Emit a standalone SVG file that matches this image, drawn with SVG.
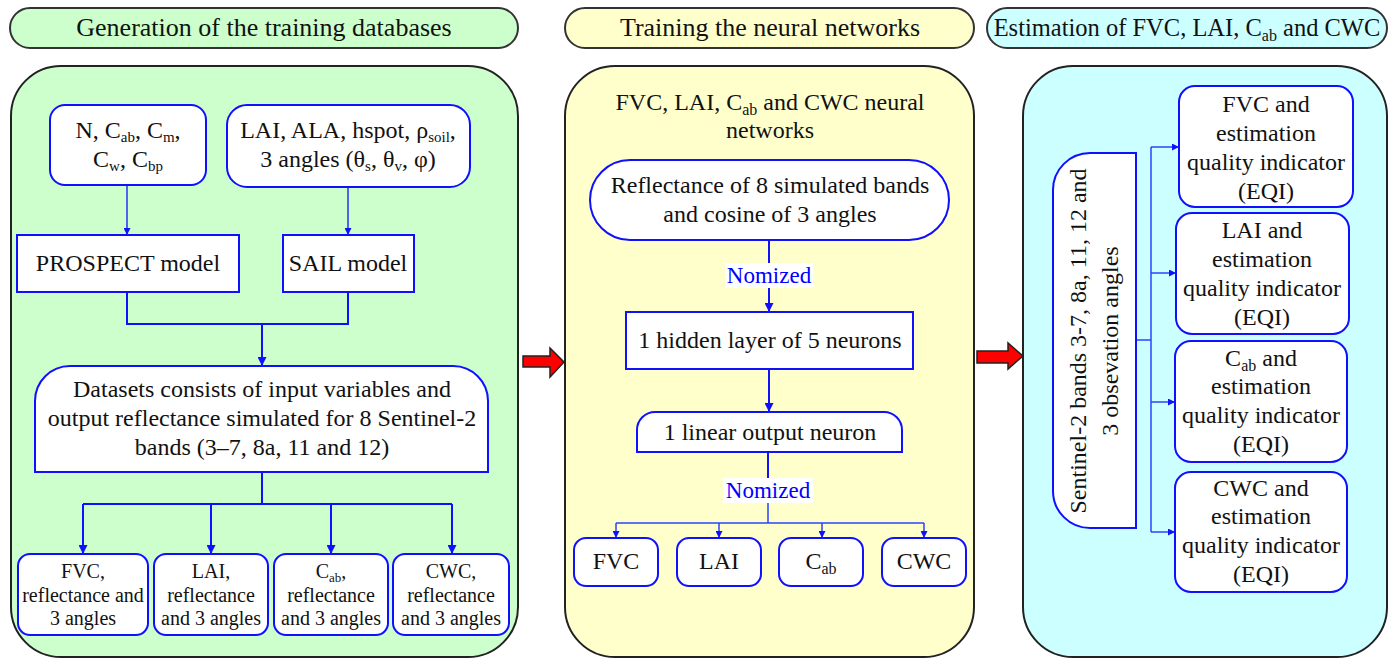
<svg xmlns="http://www.w3.org/2000/svg" width="1395" height="658" viewBox="0 0 1395 658">
<defs>
<style>
text{font-family:"Liberation Serif","Times New Roman",serif;fill:#111;}
.hdr{stroke:#333;stroke-width:2;}
.panel{stroke:#222;stroke-width:2;}
.box{fill:#fff;stroke:#1010ff;stroke-width:2;}
.t24{font-size:24px;text-anchor:middle;}
.t20{font-size:20px;text-anchor:middle;}
.t26{font-size:26px;text-anchor:middle;}
.c2{fill:none;stroke:#1010ff;stroke-width:2;}
.c1{fill:none;stroke:#1010ff;stroke-width:1.3;}
.c15{fill:none;stroke:#2a44ff;stroke-width:1.5;}
.lbl{fill:#0000ff;font-size:23px;text-anchor:middle;}
.red{fill:#ff0000;stroke:#222;stroke-width:1.5;}
</style>
<marker id="ah" viewBox="0 0 10 10" refX="10" refY="5" markerUnits="userSpaceOnUse" markerWidth="9" markerHeight="9" orient="auto"><path d="M0,0 L10,5 L0,10 z" fill="#1010ff"/></marker>
<marker id="ahs" viewBox="0 0 10 10" refX="10" refY="5" markerUnits="userSpaceOnUse" markerWidth="7" markerHeight="7" orient="auto"><path d="M0,0 L10,5 L0,10 z" fill="#1010ff"/></marker>
</defs>

<g id="headers">
<g id="h1"><rect class="hdr" x="10" y="8" width="508" height="40" rx="20" fill="#ccffcc"/><text class="t26" x="264" y="36">Generation of the training databases</text></g>
<g id="h2"><rect class="hdr" x="565" y="8" width="409" height="40" rx="20" fill="#ffffcc"/><text class="t26" x="770" y="36">Training the neural networks</text></g>
<g id="h3"><rect class="hdr" x="987" y="8" width="400" height="40" rx="20" fill="#ccffff"/><text x="1187" y="36" style="font-size:24.5px;text-anchor:middle">Estimation of FVC, LAI, C<tspan font-size="16" dy="5">ab</tspan><tspan dy="-5"> and CWC</tspan></text></g>
</g>

<g id="panels">
<rect id="p1" class="panel" x="11" y="66" width="507" height="591" rx="50" fill="#ccffcc"/>
<rect id="p2" class="panel" x="565" y="66" width="409" height="591" rx="50" fill="#ffffcc"/>
<rect id="p3" class="panel" x="1023" y="66" width="364" height="591" rx="50" fill="#ccffff"/>
</g>

<g id="big-arrows">
<path class="red" d="M523,356 H550 V348 L564,362 L550,377 V367 H523 Z"/>
<path class="red" d="M977,351 H1008 V343 L1023,356 L1008,369 V363 H977 Z"/>
</g>

<g id="connectors">
<path class="c1" d="M127,185 V235" marker-end="url(#ahs)"/>
<path class="c1" d="M348,187 V235" marker-end="url(#ahs)"/>
<path class="c2" d="M127,292 V324 H348 V292"/>
<path class="c2" d="M262,324 V366" marker-end="url(#ah)"/>
<path class="c2" d="M262,472 V504 M83,504 H452"/>
<path class="c2" d="M83,504 V554" marker-end="url(#ah)"/>
<path class="c2" d="M211,504 V554" marker-end="url(#ah)"/>
<path class="c2" d="M331,504 V554" marker-end="url(#ah)"/>
<path class="c2" d="M452,504 V554" marker-end="url(#ah)"/>

<path class="c2" d="M769,240 V263"/>
<path class="c2" d="M769,288 V312" marker-end="url(#ah)"/>
<path class="c2" d="M769,369 V412" marker-end="url(#ah)"/>
<path class="c2" d="M768,452 V478"/>
<path class="c15" d="M768,503 V523 M616,523 H924"/>
<path class="c15" d="M616,523 V538" marker-end="url(#ahs)"/>
<path class="c15" d="M719,523 V538" marker-end="url(#ahs)"/>
<path class="c15" d="M822,523 V538" marker-end="url(#ahs)"/>
<path class="c15" d="M924,523 V538" marker-end="url(#ahs)"/>

<path class="c15" d="M1136,340 H1151 M1151,147 V532"/>
<path class="c15" d="M1151,147 H1179" marker-end="url(#ahs)"/>
<path class="c15" d="M1151,273 H1176" marker-end="url(#ahs)"/>
<path class="c15" d="M1151,402 H1175" marker-end="url(#ahs)"/>
<path class="c15" d="M1151,532 H1175" marker-end="url(#ahs)"/>
</g>

<g id="n-inputs-prospect">
<rect class="box" x="50" y="105" width="156" height="80" rx="15"/>
<text class="t24" x="128" y="138">N, C<tspan font-size="15" dy="4">ab</tspan><tspan dy="-4">, C</tspan><tspan font-size="15" dy="4">m</tspan><tspan dy="-4">,</tspan></text>
<text class="t24" x="128" y="167">C<tspan font-size="15" dy="4">w</tspan><tspan dy="-4">, C</tspan><tspan font-size="15" dy="4">bp</tspan></text>
</g>
<g id="n-inputs-sail">
<rect class="box" x="227" y="105" width="243" height="82" rx="20"/>
<text class="t24" x="348" y="138">LAI, ALA, hspot, ρ<tspan font-size="15" dy="4">soil</tspan><tspan dy="-4">,</tspan></text>
<text class="t24" x="348" y="167">3 angles (θ<tspan font-size="15" dy="4">s</tspan><tspan dy="-4">, θ</tspan><tspan font-size="15" dy="4">v</tspan><tspan dy="-4">, φ)</tspan></text>
</g>
<g id="n-prospect">
<rect class="box" x="17" y="235" width="222" height="57"/>
<text class="t24" x="128" y="271">PROSPECT model</text>
</g>
<g id="n-sail">
<rect class="box" x="283" y="235" width="131" height="57"/>
<text class="t24" x="348" y="271">SAIL model</text>
</g>
<g id="n-datasets">
<path class="box" d="M35,472 V401 A35,35 0 0 1 70,366 H453 A35,35 0 0 1 488,401 V472 Z"/>
<text class="t24" x="262" y="397">Datasets consists of input variables and</text>
<text class="t24" x="262" y="426">output reflectance simulated for 8 Sentinel-2</text>
<text class="t24" x="262" y="455">bands (3–7, 8a, 11 and 12)</text>
</g>
<g id="n-ds-fvc">
<rect class="box" x="18" y="554" width="130" height="81" rx="12"/>
<text class="t20" x="83" y="578">FVC,</text><text class="t20" x="83" y="602">reflectance and</text><text class="t20" x="83" y="625">3 angles</text>
</g>
<g id="n-ds-lai">
<rect class="box" x="154" y="554" width="114" height="81" rx="12"/>
<text class="t20" x="211" y="578">LAI,</text><text class="t20" x="211" y="602">reflectance</text><text class="t20" x="211" y="625">and 3 angles</text>
</g>
<g id="n-ds-cab">
<rect class="box" x="274" y="554" width="114" height="81" rx="12"/>
<text class="t20" x="331" y="578">C<tspan font-size="13" dy="4">ab</tspan><tspan dy="-4">,</tspan></text><text class="t20" x="331" y="602">reflectance</text><text class="t20" x="331" y="625">and 3 angles</text>
</g>
<g id="n-ds-cwc">
<rect class="box" x="393" y="554" width="116" height="81" rx="12"/>
<text class="t20" x="451" y="578">CWC,</text><text class="t20" x="451" y="602">reflectance</text><text class="t20" x="451" y="625">and 3 angles</text>
</g>

<g id="n-nn-title">
<text class="t24" x="770" y="110">FVC, LAI, C<tspan font-size="16" dy="5">ab</tspan><tspan dy="-5"> and CWC neural</tspan></text>
<text class="t24" x="770" y="138">networks</text>
</g>
<g id="n-reflectance">
<rect class="box" x="590" y="160" width="359" height="80" rx="40"/>
<text class="t24" x="770" y="193">Reflectance of 8 simulated bands</text>
<text class="t24" x="770" y="222">and cosine of 3 angles</text>
</g>
<g id="lbl-norm1">
<rect x="725" y="263" width="88" height="25" fill="#fff"/>
<text class="lbl" x="769" y="283">Nomized</text>
</g>
<g id="n-hidden">
<rect class="box" x="626" y="312" width="287" height="57"/>
<text class="t24" x="770" y="348">1 hidden layer of 5 neurons</text>
</g>
<g id="n-linear">
<path class="box" d="M637,452 V430 A18,18 0 0 1 655,412 H884 A18,18 0 0 1 902,430 V452 Z"/>
<text class="t24" x="770" y="440">1 linear output neuron</text>
</g>
<g id="lbl-norm2">
<rect x="723" y="478" width="90" height="25" fill="#fff"/>
<text class="lbl" x="768" y="498">Nomized</text>
</g>
<g id="n-out-fvc"><rect class="box" x="574" y="538" width="84" height="48" rx="12"/><text class="t24" x="616" y="569">FVC</text></g>
<g id="n-out-lai"><rect class="box" x="677" y="538" width="84" height="48" rx="12"/><text class="t24" x="719" y="569">LAI</text></g>
<g id="n-out-cab"><rect class="box" x="779" y="538" width="84" height="48" rx="12"/><text class="t24" x="821" y="569">C<tspan font-size="16" dy="5">ab</tspan></text></g>
<g id="n-out-cwc"><rect class="box" x="882" y="538" width="84" height="48" rx="12"/><text class="t24" x="924" y="569">CWC</text></g>

<g id="n-sentinel">
<path class="box" d="M1136,153 H1090 A37,37 0 0 0 1053,190 V491 A37,37 0 0 0 1090,528 H1136 Z"/>
<text class="t24" transform="translate(1086,341) rotate(-90)" x="0" y="0">Sentinel-2 bands 3-7, 8a, 11, 12 and<tspan x="0" dy="32">3 obsevation angles</tspan></text>
</g>
<g id="n-est-fvc">
<rect class="box" x="1179" y="86" width="174" height="121" rx="16"/>
<text class="t24" x="1266" y="112">FVC and</text><text class="t24" x="1266" y="141">estimation</text><text class="t24" x="1266" y="170">quality indicator</text><text class="t24" x="1266" y="199">(EQI)</text>
</g>
<g id="n-est-lai">
<rect class="box" x="1176" y="213" width="173" height="121" rx="16"/>
<text class="t24" x="1262" y="238">LAI and</text><text class="t24" x="1262" y="267">estimation</text><text class="t24" x="1262" y="296">quality indicator</text><text class="t24" x="1262" y="325">(EQI)</text>
</g>
<g id="n-est-cab">
<rect class="box" x="1175" y="341" width="172" height="121" rx="16"/>
<text class="t24" x="1261" y="366">C<tspan font-size="16" dy="5">ab</tspan><tspan dy="-5"> and</tspan></text><text class="t24" x="1261" y="394">estimation</text><text class="t24" x="1261" y="423">quality indicator</text><text class="t24" x="1261" y="452">(EQI)</text>
</g>
<g id="n-est-cwc">
<rect class="box" x="1175" y="472" width="172" height="120" rx="16"/>
<text class="t24" x="1261" y="496">CWC and</text><text class="t24" x="1261" y="524">estimation</text><text class="t24" x="1261" y="553">quality indicator</text><text class="t24" x="1261" y="582">(EQI)</text>
</g>
</svg>
